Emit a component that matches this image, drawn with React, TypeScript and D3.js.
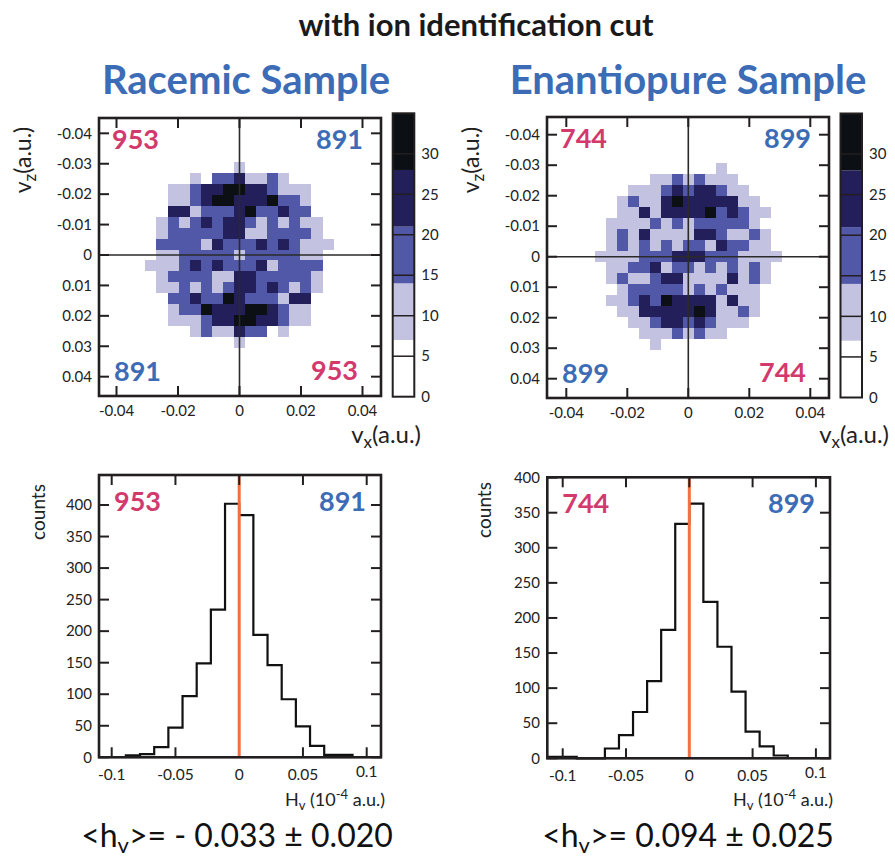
import React from "react";
import * as d3 from "d3";

const FONT = "Lato, 'Open Sans', 'DejaVu Sans', sans-serif";

// ---------- data ----------

// Velocity maps: 25 x 25 bins of 0.0036 a.u. (v_x across, v_z down from -0.045).
// Each digit is the colour band of a cell; bandCounts gives its count.
const bandCounts = [0, 10, 17, 24, 31];

const racemicMap = [
  "0000000000000000000000000",
  "0000000000000000000000000",
  "0000000000000000000000000",
  "0000000000000000000000000",
  "0000000000001000000000000",
  "0000000010223112100000000",
  "0000001123344332111000000",
  "0000001123443334221000000",
  "0000003312223422322000000",
  "0000012123233212121100000",
  "0000012222233112222100000",
  "0000022221322232321110000",
  "0000011222221222221100000",
  "0000111232322231222200000",
  "0000012222113322222100000",
  "0000011212123323212100000",
  "0000002232243222133000000",
  "0000001224333443211000000",
  "0000001112334433211000000",
  "0000000012113220100000000",
  "0000000000001000000000000",
  "0000000000000000000000000",
  "0000000000000000000000000",
  "0000000000000000000000000",
  "0000000000000000000000000",
];

const enantioMap = [
  "0000000000000000000000000",
  "0000000000000000000000000",
  "0000000000000000000000000",
  "0000000000000000000000000",
  "0000000000000001000000000",
  "0000000001121211100000000",
  "0000000111232332110000000",
  "0000001211343333311000000",
  "0000001131333342321100000",
  "0000011112121222221000000",
  "0000012131111332112100000",
  "0000012121212213221100000",
  "0000111122233322211110000",
  "0000011223122121212100000",
  "0000012112331111312100000",
  "0000001222221212111000000",
  "0000011232433331311000000",
  "0000001133333431121000000",
  "0000000112332321110000000",
  "0000000011121211000000000",
  "0000000001000000000000000",
  "0000000000000000000000000",
  "0000000000000000000000000",
  "0000000000000000000000000",
  "0000000000000000000000000",
];

const mapBinStart = -0.045;
const mapBinWidth = 0.0036;

const colorBreaks = [7, 14, 21, 28];
const colorMax = 35;
const bandColors = ["#ffffff", "#c3c3e1", "#5158a7", "#231f5b", "#0c1014"];
const colorbarTicks = [0, 5, 10, 15, 20, 25, 30];

const mapYTicks = [-0.04, -0.03, -0.02, -0.01, 0, 0.01, 0.02, 0.03, 0.04];
const mapXTicks = [-0.04, -0.02, 0, 0.02, 0.04];

// H_v histograms (bin width 0.1/9, first bin index given)
const histBinWidth = 0.1 / 9;
const racemicHistStart = -8;
const racemicHist = [3, 5, 16, 47, 97, 149, 234, 402, 384, 194, 146, 92, 49, 18, 4, 4];
const enantioHistStart = -10;
const enantioHist = [2, 2, 0, 0, 14, 33, 66, 110, 183, 334, 363, 223, 159, 95, 38, 17, 4];

const histXTicks = [-0.1, -0.05, 0, 0.05, 0.1];
const histYTicks = [0, 50, 100, 150, 200, 250, 300, 350, 400];

// counts on the negative / positive side
const racemicCounts = [953, 891];
const enantioCounts = [744, 899];

const panelTitles = ["Racemic Sample", "Enantiopure Sample"];
const meanValues = ["- 0.033", "0.094"];
const meanErrors = ["0.020", "0.025"];

// ---------- styling ----------
const PINK = "#d2396d";
const BLUE = "#3c6cb5";
const INK = "#231f20";
const ORANGE = "#f26f3f";

type MapLayout = {
  cx: number; cy: number; ppx: number; ppy: number;
  frame: [number, number, number, number];
  bar: [number, number, number, number];
  yLabelX: number; xLabelEnd: number; vzX: number;
};

type HistLayout = {
  x0: number; ppx: number; y0: number; ppy: number;
  frame: [number, number, number, number];
  yLabelX: number; hLabelEnd: number; countsX: number; countsY: number;
};

const mapLayouts: MapLayout[] = [
  { cx: 239.5, cy: 255, ppx: 3075, ppy: 3042, frame: [99, 118, 381, 396], bar: [392.7, 113.3, 414.3, 396.7], yLabelX: 92, xLabelEnd: 421, vzX: 31 },
  { cx: 688.3, cy: 256.7, ppx: 3050, ppy: 3050, frame: [547, 117, 829, 398], bar: [840.5, 113.5, 862, 397.5], yLabelX: 540, xLabelEnd: 889, vzX: 479 },
];

const histLayouts: HistLayout[] = [
  { x0: 239.2, ppx: 1275, y0: 757.3, ppy: (757.3 - 505) / 400, frame: [99, 475, 381, 757.3], yLabelX: 92, hLabelEnd: 385, countsX: 45, countsY: 512 },
  { x0: 689.3, ppx: 1266, y0: 758.3, ppy: (758.3 - 512.7) / 350, frame: [547.3, 477.3, 830, 758.3], yLabelX: 540, hLabelEnd: 833, countsX: 491, countsY: 510 },
];

const TICK = 10;

function VelocityMap({ L, map, counts }: { L: MapLayout; map: string[]; counts: number[] }) {
  const x = d3.scaleLinear().domain([-0.04, 0.04]).range([L.cx - 0.04 * L.ppx, L.cx + 0.04 * L.ppx]);
  const y = d3.scaleLinear().domain([-0.04, 0.04]).range([L.cy - 0.04 * L.ppy, L.cy + 0.04 * L.ppy]);
  const color = d3.scaleThreshold<number, string>().domain(colorBreaks).range(bandColors);
  const [fx0, fy0, fx1, fy1] = L.frame;

  const cells: JSX.Element[] = [];
  map.forEach((row, r) => {
    row.split("").forEach((ch, c) => {
      const v = bandCounts[+ch];
      if (!v) return;
      const vx = mapBinStart + c * mapBinWidth;
      const vz = mapBinStart + r * mapBinWidth;
      cells.push(
        <rect key={`${r}-${c}`} x={x(vx)} y={y(vz)} width={x(vx + mapBinWidth) - x(vx)}
          height={y(vz + mapBinWidth) - y(vz)} fill={color(v)} shapeRendering="crispEdges" />
      );
    });
  });

  // colour bar
  const [bx0, by0, bx1, by1] = L.bar;
  const cy = d3.scaleLinear().domain([0, colorMax]).range([by1, by0]);
  const edges = [0, ...colorBreaks, colorMax];

  return (
    <g>
      {cells}
      <line x1={x(0)} x2={x(0)} y1={fy0} y2={fy1} stroke="#2a2a2a" strokeWidth={1.6} />
      <line x1={fx0} x2={fx1} y1={y(0)} y2={y(0)} stroke="#2a2a2a" strokeWidth={1.6} />
      {mapXTicks.map((t) => (
        <g key={"xt" + t}>
          <line x1={x(t)} x2={x(t)} y1={fy0} y2={fy0 + TICK} stroke={INK} strokeWidth={2} />
          <line x1={x(t)} x2={x(t)} y1={fy1} y2={fy1 - TICK} stroke={INK} strokeWidth={2} />
          <text x={x(t)} y={fy1 + 20} textAnchor="middle" fontSize={15} fill="#222">
            {t === 0 ? "0" : t.toFixed(2)}
          </text>
        </g>
      ))}
      {mapYTicks.map((t) => (
        <g key={"yt" + t}>
          <line x1={fx0} x2={fx0 + TICK} y1={y(t)} y2={y(t)} stroke={INK} strokeWidth={2} />
          <line x1={fx1} x2={fx1 - TICK} y1={y(t)} y2={y(t)} stroke={INK} strokeWidth={2} />
          <text x={L.yLabelX} y={y(t)} dy="0.35em" textAnchor="end" fontSize={15} fill="#222">
            {t === 0 ? "0" : t.toFixed(2)}
          </text>
        </g>
      ))}
      <rect x={fx0} y={fy0} width={fx1 - fx0} height={fy1 - fy0} fill="none" stroke={INK} strokeWidth={2.6} />

      {/* quadrant counts */}
      <text x={fx0 + 13} y={fy0 + 31} fontSize={27} fontWeight={700} fill={PINK}>{counts[0]}</text>
      <text x={fx1 - 18} y={fy0 + 31} fontSize={27} fontWeight={700} fill={BLUE} textAnchor="end">{counts[1]}</text>
      <text x={fx0 + 15} y={fy1 - 15} fontSize={27} fontWeight={700} fill={BLUE}>{counts[1]}</text>
      <text x={fx1 - 23} y={fy1 - 16} fontSize={27} fontWeight={700} fill={PINK} textAnchor="end">{counts[0]}</text>

      {/* axis titles */}
      <text transform={`translate(${L.vzX},160) rotate(-90)`} textAnchor="middle" fontSize={23} fill="#222">
        v<tspan fontSize={17} baselineShift="-30%">z</tspan>(a.u.)
      </text>
      <text x={L.xLabelEnd} y={443} textAnchor="end" fontSize={24} fill="#222">
        v<tspan fontSize={17} baselineShift="-30%">x</tspan>(a.u.)
      </text>

      {/* colour bar */}
      {edges.slice(0, -1).map((e, i) => (
        <rect key={"band" + i} x={bx0} y={cy(edges[i + 1])} width={bx1 - bx0}
          height={cy(e) - cy(edges[i + 1])} fill={bandColors[i]} />
      ))}
      {colorbarTicks.map((t) => (
        <g key={"cb" + t}>
          {t > 0 && <line x1={bx0} x2={bx1} y1={cy(t)} y2={cy(t)} stroke={INK} strokeWidth={1.5} />}
          <text x={bx1 + 7} y={cy(t)} dy="0.35em" fontSize={15} fill="#222">{t}</text>
        </g>
      ))}
      <rect x={bx0} y={by0} width={bx1 - bx0} height={by1 - by0} fill="none" stroke={INK} strokeWidth={2} />
    </g>
  );
}

function Histogram({ L, counts, start, totals }: { L: HistLayout; counts: number[]; start: number; totals: number[] }) {
  const x = d3.scaleLinear().domain([0, 0.1]).range([L.x0, L.x0 + 0.1 * L.ppx]);
  const y = d3.scaleLinear().domain([0, 100]).range([L.y0, L.y0 - 100 * L.ppy]);
  const [fx0, fy0, fx1, fy1] = L.frame;

  const e0 = start * histBinWidth;
  const eEnd = (start + counts.length) * histBinWidth;
  const pts: [number, number][] = [[e0, 0]];
  counts.forEach((c, i) => pts.push([(start + i) * histBinWidth, c]));
  pts.push([eEnd, counts[counts.length - 1]]);
  pts.push([eEnd, 0]);
  const line = d3.line<[number, number]>().x((d) => x(d[0])).y((d) => y(d[1])).curve(d3.curveStepAfter);

  return (
    <g>
      <path d={line(pts) || ""} fill="none" stroke="#111" strokeWidth={2.2} />
      <line x1={x(0)} x2={x(0)} y1={fy0} y2={fy1} stroke={ORANGE} strokeWidth={3} />
      {histXTicks.map((t, i) => (
        <g key={"hx" + t}>
          <line x1={x(t)} x2={x(t)} y1={fy0} y2={fy0 + TICK} stroke={INK} strokeWidth={2} />
          {t !== 0 && <line x1={x(t)} x2={x(t)} y1={fy1} y2={fy1 - TICK} stroke={INK} strokeWidth={2} />}
          <text x={x(t)} y={fy1 + 23 - (i === histXTicks.length - 1 ? 3 : 0)} textAnchor="middle" fontSize={15.5} fill="#222">
            {String(t)}
          </text>
        </g>
      ))}
      {histYTicks.map((t) => (
        <g key={"hy" + t}>
          <line x1={fx0} x2={fx0 + TICK} y1={y(t)} y2={y(t)} stroke={INK} strokeWidth={2} />
          <line x1={fx1} x2={fx1 - TICK} y1={y(t)} y2={y(t)} stroke={INK} strokeWidth={2} />
          <text x={L.yLabelX} y={y(t)} dy="0.35em" textAnchor="end" fontSize={15} fill="#222">{t}</text>
        </g>
      ))}
      <rect x={fx0} y={fy0} width={fx1 - fx0} height={fy1 - fy0} fill="none" stroke={INK} strokeWidth={2.6} />

      <text x={fx0 + 15} y={fy0 + 36} fontSize={27} fontWeight={700} fill={PINK}>{totals[0]}</text>
      <text x={fx1 - 15} y={fy0 + 36} fontSize={27} fontWeight={700} fill={BLUE} textAnchor="end">{totals[1]}</text>

      <text transform={`translate(${L.countsX},${L.countsY}) rotate(-90)`} textAnchor="middle" fontSize={19} fill="#222">counts</text>
      <text x={L.hLabelEnd} y={806} textAnchor="end" fontSize={18} fill="#222">
        H<tspan fontSize={13} baselineShift="-30%">v</tspan> (10<tspan fontSize={13} baselineShift="55%">-4</tspan> a.u.)
      </text>
    </g>
  );
}

export default function App() {
  const maps = [racemicMap, enantioMap];
  const counts = [racemicCounts, enantioCounts];
  const hists = [racemicHist, enantioHist];
  const starts = [racemicHistStart, enantioHistStart];
  const titleX = [246, 688];
  const meanX = [237, 688];
  return (
    <svg width={895} height={857} style={{ position: "absolute", left: 0, top: 0, background: "#fff" }} fontFamily={FONT}>
      <rect width={895} height={857} fill="#fff" />
      <text x={476} y={36} textAnchor="middle" fontSize={31} fontWeight={700} fill="#1a1a1a">
        with ion identification cut
      </text>
      {panelTitles.map((t, i) => (
        <text key={t} x={titleX[i]} y={94} textAnchor="middle" fontSize={40} fontWeight={700} fill={BLUE}>{t}</text>
      ))}
      {maps.map((m, i) => (
        <VelocityMap key={"m" + i} L={mapLayouts[i]} map={m} counts={counts[i]} />
      ))}
      {hists.map((h, i) => (
        <Histogram key={"h" + i} L={histLayouts[i]} counts={h} start={starts[i]} totals={counts[i]} />
      ))}
      {meanValues.map((v, i) => (
        <text key={"mean" + i} x={meanX[i]} y={847} textAnchor="middle" fontSize={32} fill="#111">
          &lt;h<tspan fontSize={22} dy={6}>v</tspan><tspan dy={-6}>&gt;= {v} ± {meanErrors[i]}</tspan>
        </text>
      ))}
    </svg>
  );
}
